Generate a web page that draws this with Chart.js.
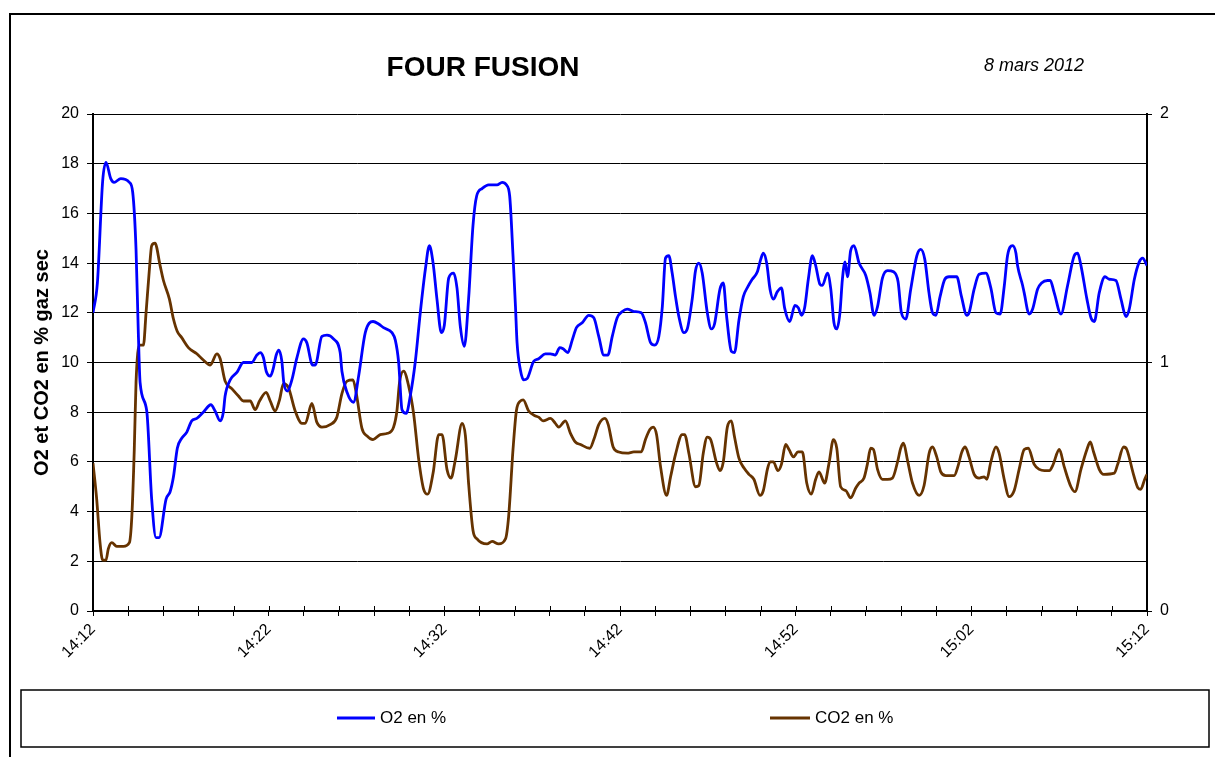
<!DOCTYPE html>
<html><head><meta charset="utf-8">
<script src="https://cdn.jsdelivr.net/npm/chart.js@4/dist/chart.umd.min.js"></script>
<style>html,body{margin:0;padding:0;background:#fff;overflow:hidden}#wrap{position:relative;width:1215px;height:757px}</style>
</head><body><div id="wrap"><canvas id="c" width="1215" height="757"></canvas></div>
<script>
// Time axis: minutes after 14:12
const tickMinutes = [0, 10, 20, 30, 40, 50, 60];
const tickLabels = ['14:12', '14:22', '14:32', '14:42', '14:52', '15:02', '15:12'];
const rightAxisTicks = [0, 1, 2];

const o2Time = [0,0.25,0.55,0.74,1.01,1.2,1.58,2.07,2.26,2.45,2.58,2.68,3.06,3.34,3.59,3.76,4.16,4.39,4.58,4.8,5.05,5.34,5.62,5.91,6.28,6.71,6.95,7.24,7.42,7.52,7.81,8.19,8.56,9.04,9.33,9.52,9.7,9.86,10.09,10.24,10.43,10.58,10.75,10.86,11.07,11.32,11.61,11.98,12.17,12.5,12.65,13.03,13.32,13.69,14.07,14.17,14.46,14.83,15.12,15.5,15.94,16.26,16.54,17.02,17.21,17.4,17.59,17.83,18.06,18.35,18.63,18.92,19.15,19.36,19.58,19.83,20.0,20.25,20.53,20.72,20.91,21.14,21.38,21.63,21.84,22.15,22.52,23.0,23.29,23.53,23.72,23.91,24.05,24.14,24.33,24.52,24.71,25.09,25.37,25.75,26.04,26.32,26.57,26.76,27.03,27.28,27.52,27.85,28.22,28.51,28.79,29.08,29.31,29.56,29.84,30.13,30.41,30.79,31.21,31.45,31.74,31.97,32.21,32.41,32.59,32.78,32.97,33.16,33.35,33.64,33.83,34.11,34.3,34.49,34.68,34.97,35.2,35.38,35.69,35.88,36.07,36.34,36.52,36.77,37.02,37.28,37.53,37.82,38.01,38.16,38.35,38.54,38.73,38.96,39.19,39.37,39.66,39.96,40.15,40.34,40.51,40.72,40.95,41.14,41.38,41.52,41.81,42.0,42.18,42.34,42.52,42.66,42.81,42.95,43.13,43.32,43.61,43.99,44.23,44.46,44.66,44.94,45.23,45.57,45.83,46.02,46.27,46.55,46.9,47.12,47.35,47.59,47.79,47.98,48.22,48.49,48.73,49.17,49.44,49.74,49.87,50.16,50.44,50.83,51.11,51.4,51.64,51.87,52.06,52.35,52.54,52.63,52.92,53.01,53.29,53.49,53.77,54.0,54.34,54.49,54.72,55.1,55.48,55.86,56.05,56.24,56.58,56.81,57.0,57.28,57.61,57.85,58.23,58.52,58.8,58.99,59.28,59.56,59.75,60.0];
const o2Values = [12.0,13.2,17.3,18.05,17.4,17.25,17.4,17.25,16.85,14.55,11.2,9.2,8.05,4.5,2.95,2.95,4.5,4.8,5.4,6.55,6.95,7.2,7.65,7.75,8.0,8.3,8.05,7.65,8.0,8.65,9.3,9.6,10.0,10.0,10.3,10.4,10.2,9.65,9.45,9.7,10.3,10.5,10.05,9.2,8.85,9.3,10.2,10.95,10.8,9.9,9.9,11.05,11.1,10.95,10.4,9.65,8.8,8.4,9.45,11.2,11.65,11.55,11.4,11.2,10.9,10.0,8.1,7.95,8.65,10.05,12.0,13.75,14.7,14.0,12.55,11.2,11.5,13.4,13.6,13.0,11.45,10.65,12.55,15.5,16.7,17.0,17.15,17.15,17.25,17.15,16.7,14.3,12.25,10.8,9.7,9.3,9.35,10.05,10.15,10.35,10.35,10.3,10.6,10.55,10.4,10.9,11.4,11.6,11.9,11.8,11.05,10.3,10.3,11.05,11.8,12.05,12.15,12.05,12.0,11.6,10.8,10.7,11.05,12.25,14.2,14.3,13.6,12.65,11.85,11.2,11.35,12.55,13.7,14.0,13.6,12.0,11.35,11.55,12.95,13.2,11.85,10.45,10.4,11.7,12.65,13.05,13.35,13.65,14.15,14.4,14.0,12.95,12.55,12.85,13.0,12.2,11.65,12.3,12.2,11.9,12.2,13.35,14.3,13.9,13.15,13.1,13.6,12.95,11.6,11.35,12.0,13.35,14.05,13.45,14.5,14.7,14.0,13.5,12.8,11.9,12.25,13.4,13.7,13.65,13.25,12.0,11.75,12.95,14.3,14.55,14.15,12.8,12.0,11.9,12.65,13.35,13.45,13.45,12.65,11.9,12.0,12.95,13.55,13.6,13.0,12.0,11.95,13.05,14.3,14.7,14.4,13.9,13.1,12.8,11.95,12.15,12.95,13.2,13.3,13.3,12.8,11.95,13.1,14.3,14.4,13.9,12.55,11.8,11.65,12.8,13.45,13.35,13.3,12.55,11.85,12.15,13.35,14.05,14.2,13.9];

const co2Time = [0,0.21,0.4,0.55,0.74,0.87,1.07,1.35,1.73,2.07,2.21,2.35,2.45,2.64,2.87,3.02,3.21,3.34,3.53,3.82,4.01,4.35,4.58,4.8,5.05,5.43,5.91,6.28,6.67,7.05,7.24,7.52,7.9,8.28,8.56,8.95,9.23,9.48,9.86,10.09,10.37,10.62,10.84,11.12,11.51,11.89,12.08,12.46,12.74,13.03,13.5,13.88,14.17,14.46,14.8,14.99,15.31,15.59,15.94,16.35,16.77,17.11,17.3,17.45,17.68,17.97,18.25,18.54,18.82,19.05,19.36,19.68,19.87,20.15,20.38,20.63,21.01,21.2,21.38,21.63,21.86,22.43,22.72,23.09,23.48,23.66,23.91,24.1,24.33,24.49,24.8,25.19,25.37,25.62,26.04,26.32,26.51,26.89,27.18,27.46,27.75,28.28,28.51,28.79,29.14,29.33,29.61,29.93,30.41,30.79,31.21,31.45,31.7,31.89,32.08,32.31,32.65,32.88,33.16,33.54,33.68,33.92,34.3,34.49,34.74,34.97,35.16,35.5,35.69,35.88,36.11,36.34,36.52,36.77,37.06,37.34,37.62,37.97,38.16,38.39,38.54,38.73,38.99,39.19,39.43,39.62,39.87,40.13,40.38,40.63,40.89,41.14,41.33,41.65,41.9,42.15,42.34,42.56,42.85,43.13,43.42,43.61,43.89,44.08,44.27,44.43,44.66,44.94,45.23,45.51,45.8,45.98,46.14,46.37,46.65,47.03,47.31,47.6,47.79,48.03,48.26,48.55,49.02,49.25,49.46,49.65,49.87,50.16,50.44,50.73,50.88,51.11,51.4,51.58,51.87,52.15,52.44,52.72,53.01,53.24,53.58,53.87,54.16,54.44,54.63,55.01,55.29,55.67,55.9,56.24,56.58,56.77,56.96,57.28,57.54,58.14,58.33,58.67,58.85,59.23,59.49,59.64,59.87,60.0];
const co2Values = [5.95,4.5,2.75,2.05,2.05,2.5,2.75,2.6,2.6,2.75,3.8,6.5,9.2,10.7,10.7,12.0,13.75,14.7,14.8,13.9,13.3,12.55,11.75,11.25,11.0,10.6,10.35,10.1,9.9,10.35,10.15,9.25,8.95,8.65,8.45,8.45,8.1,8.45,8.8,8.45,8.05,8.5,9.15,9.0,8.05,7.55,7.55,8.35,7.6,7.4,7.5,7.8,8.75,9.25,9.3,8.75,7.35,7.05,6.9,7.1,7.15,7.4,8.05,9.2,9.65,9.05,7.95,6.1,4.9,4.7,5.55,7.1,7.1,5.7,5.35,6.1,7.55,7.05,5.15,3.25,2.9,2.7,2.8,2.7,2.9,3.8,6.5,8.05,8.45,8.5,8.05,7.85,7.8,7.65,7.75,7.55,7.4,7.65,7.15,6.8,6.7,6.55,6.9,7.5,7.75,7.5,6.6,6.4,6.35,6.4,6.4,6.9,7.3,7.4,7.1,5.8,4.65,5.4,6.3,7.1,7.1,6.35,5.0,5.05,6.35,7.0,6.9,5.95,5.65,6.0,7.4,7.65,7.0,6.15,5.75,5.5,5.3,4.65,4.85,5.7,6.0,6.0,5.65,5.9,6.7,6.5,6.2,6.4,6.4,5.15,4.7,5.3,5.6,5.15,5.95,6.9,6.55,5.0,4.85,4.55,4.95,5.15,5.35,5.9,6.55,6.5,5.7,5.3,5.3,5.35,6.0,6.55,6.75,6.05,5.15,4.65,5.05,6.35,6.6,6.2,5.6,5.45,5.45,5.85,6.4,6.6,6.2,5.5,5.35,5.4,5.3,6.0,6.6,6.35,5.3,4.6,4.85,5.7,6.5,6.55,5.9,5.7,5.65,5.65,5.85,6.5,5.8,5.0,4.8,5.7,6.5,6.8,6.4,5.7,5.5,5.55,5.9,6.6,6.5,5.5,4.95,4.9,5.3,5.5];

const FONT = "'Liberation Sans', Arial, sans-serif";
const toPts = (t, v) => t.map((x, i) => ({x: x, y: v[i]}));

const decor = {
  id: 'decor',
  afterDraw(chart) {
    const ctx = chart.ctx;
    const sx = chart.scales.x;
    ctx.save();
    // inner half of crossing x ticks
    ctx.strokeStyle = '#000'; ctx.lineWidth = 1;
    sx.ticks.forEach(t => {
      const px = Math.round(sx.getPixelForValue(t.value)) + 0.5;
      ctx.beginPath(); ctx.moveTo(px, sx.top - 5); ctx.lineTo(px, sx.top); ctx.stroke();
    });
    // outer frame
    ctx.lineWidth = 2;
    ctx.beginPath(); ctx.moveTo(10, 757); ctx.lineTo(10, 14); ctx.lineTo(1215, 14); ctx.stroke();
    // title and date
    ctx.fillStyle = '#000';
    ctx.textBaseline = 'middle';
    ctx.textAlign = 'center';
    ctx.font = 'bold 28px ' + FONT;
    ctx.fillText('FOUR FUSION', 483, 68);
    ctx.textAlign = 'right';
    ctx.font = 'italic 18px ' + FONT;
    ctx.fillText('8 mars 2012', 1084, 66);
    // legend box
    ctx.lineWidth = 1.5;
    ctx.strokeRect(21, 690, 1188, 57);
    const items = [[337, 375, 380], [770, 810, 815]];
    ctx.textAlign = 'left';
    ctx.font = '17px ' + FONT;
    chart.data.datasets.forEach((ds, i) => {
      const [a, b, tx] = items[i];
      ctx.strokeStyle = ds.borderColor; ctx.lineWidth = 3;
      ctx.beginPath(); ctx.moveTo(a, 718); ctx.lineTo(b, 718); ctx.stroke();
      ctx.fillStyle = '#000';
      ctx.fillText(ds.label, tx, 718);
    });
    ctx.restore();
  }
};

new Chart(document.getElementById('c'), {
  type: 'line',
  data: {
    datasets: [
      {label: 'O2 en %', data: toPts(o2Time, o2Values), borderColor: '#0000FF', borderWidth: 2.8,
       pointRadius: 0, cubicInterpolationMode: 'monotone', fill: false, yAxisID: 'y'},
      {label: 'CO2 en %', data: toPts(co2Time, co2Values), borderColor: '#663300', borderWidth: 2.8,
       pointRadius: 0, cubicInterpolationMode: 'monotone', fill: false, yAxisID: 'y'}
    ]
  },
  options: {
    responsive: false,
    animation: false,
    devicePixelRatio: 1,
    layout: {autoPadding: false, padding: {left: 0, right: 0, top: 114, bottom: 76}},
    plugins: {legend: {display: false}, title: {display: false}, tooltip: {enabled: false}},
    scales: {
      x: {
        type: 'linear', min: 0, max: 60,
        afterFit: s => { s.height = 70; },
        border: {display: true, color: '#000', width: 2},
        grid: {drawOnChartArea: false, color: '#000', tickLength: 5, lineWidth: 1},
        ticks: {
          stepSize: 2, autoSkip: false, maxRotation: 45, minRotation: 45, padding: 4,
          color: '#000', font: {family: FONT, size: 16},
          callback: v => { const i = tickMinutes.indexOf(v); return i >= 0 ? tickLabels[i] : ''; }
        }
      },
      y: {
        position: 'left', min: 0, max: 20,
        afterFit: s => { s.width = 93; },
        border: {display: true, color: '#000', width: 2},
        grid: {color: '#000', lineWidth: 1, tickLength: 6},
        ticks: {stepSize: 2, padding: 8, color: '#000', font: {family: FONT, size: 16}},
        title: {display: true, text: 'O2 et CO2 en % gaz sec', color: '#000',
                font: {family: FONT, size: 20, weight: 'bold'}, padding: {top: 30, bottom: 0}}
      },
      y2: {
        position: 'right', min: rightAxisTicks[0], max: rightAxisTicks[rightAxisTicks.length - 1],
        afterFit: s => { s.width = 68; },
        border: {display: true, color: '#000', width: 2},
        grid: {drawOnChartArea: false, color: '#000', tickLength: 5},
        ticks: {stepSize: 1, padding: 8, color: '#000', font: {family: FONT, size: 16}}
      }
    }
  },
  plugins: [decor]
});
</script>
</body></html>
